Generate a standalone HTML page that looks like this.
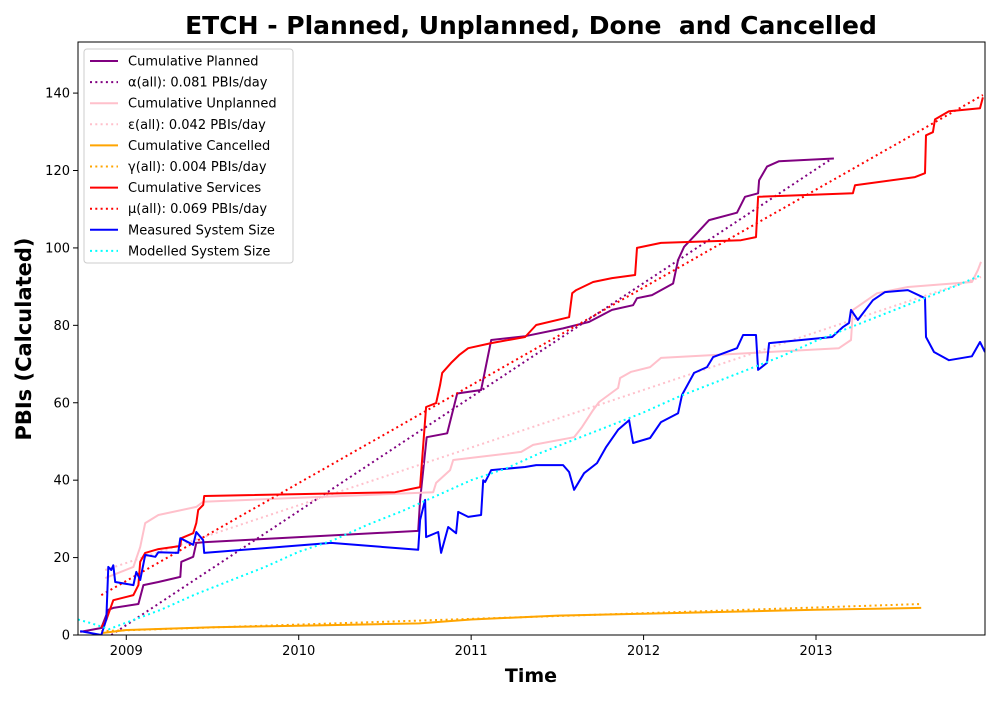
<!DOCTYPE html>
<html><head><meta charset="utf-8"><style>
body{margin:0;background:#fff;font-family:"Liberation Sans","DejaVu Sans",sans-serif;}
svg text{font-family:"DejaVu Sans","Liberation Sans",sans-serif;}
</style></head><body>
<svg id="chart" width="1000" height="700" xmlns="http://www.w3.org/2000/svg"></svg>
<script>
const xTicks=[2009,2010,2011,2012,2013];
const xTickLabels=["2009","2010","2011","2012","2013"];
const yTicks=[0,20,40,60,80,100,120,140];
const planned=[[2008.733,0.8],[2008.855,1.8],[2008.896,6.5],[2008.925,7],[2009.07,8],[2009.099,12.9],[2009.186,13.7],[2009.313,15],[2009.319,18.9],[2009.388,20.2],[2009.406,23.8],[2009.458,24],[2010.693,26.9],[2010.704,34.9],[2010.742,51.1],[2010.861,52.1],[2010.919,62.4],[2011.058,63.3],[2011.116,76.2],[2011.313,77.2],[2011.533,79.2],[2011.684,80.9],[2011.817,84],[2011.939,85.2],[2011.962,87],[2012.049,87.8],[2012.171,90.8],[2012.2,96.9],[2012.235,100.3],[2012.299,103.3],[2012.38,107.2],[2012.542,109.1],[2012.588,113.2],[2012.664,114.1],[2012.67,117.5],[2012.716,121],[2012.786,122.4],[2013.104,123.1]];
const services=[[2008.855,2],[2008.884,3.9],[2008.925,9],[2009.041,10.3],[2009.07,12.9],[2009.081,18.9],[2009.11,21.2],[2009.186,22.2],[2009.313,23],[2009.319,25],[2009.388,26.3],[2009.406,28.9],[2009.417,32.3],[2009.446,33.6],[2009.452,35.9],[2010.559,36.9],[2010.704,38.2],[2010.71,41.8],[2010.739,58.9],[2010.797,59.9],[2010.82,64.6],[2010.832,67.7],[2010.884,70.3],[2010.93,72.3],[2010.983,74.1],[2011.116,75.4],[2011.313,77],[2011.377,80.1],[2011.568,82.1],[2011.586,88.3],[2011.609,89.1],[2011.707,91.2],[2011.817,92.2],[2011.951,93],[2011.962,100],[2012.101,101.3],[2012.565,102],[2012.652,102.8],[2012.664,113.2],[2013.214,114.1],[2013.226,116.2],[2013.574,118.3],[2013.632,119.3],[2013.638,129.1],[2013.678,129.9],[2013.69,133.2],[2013.771,135.3],[2013.951,136.1],[2013.968,138.9]];
const unplanned=[[2008.878,14.7],[2009.041,17.6],[2009.081,22.7],[2009.11,28.9],[2009.186,31],[2009.406,33.1],[2009.446,34.4],[2010.78,36.9],[2010.797,39.3],[2010.878,42.6],[2010.896,45.2],[2011.29,47.3],[2011.359,49.1],[2011.597,51.1],[2011.643,53.7],[2011.707,58.1],[2011.742,60.2],[2011.852,63.8],[2011.864,66.4],[2011.928,68],[2012.038,69.2],[2012.101,71.6],[2013.133,74.1],[2013.203,76.2],[2013.214,84],[2013.354,88.3],[2013.533,89.9],[2013.904,91.2],[2013.939,94.3],[2013.957,96.4]];
const cancelled=[[2008.855,0.5],[2009,1.3],[2009.5,2],[2010,2.4],[2010.7,3],[2011,4],[2011.5,5],[2012,5.5],[2012.5,6],[2013,6.5],[2013.61,7]];
const measured=[[2008.733,1],[2008.855,0],[2008.884,4],[2008.896,17.6],[2008.913,16.8],[2008.925,18],[2008.936,13.7],[2009.041,12.9],[2009.058,16.3],[2009.081,14.2],[2009.11,20.7],[2009.168,20.2],[2009.186,21.4],[2009.301,21.2],[2009.313,25],[2009.388,23.3],[2009.406,26.6],[2009.446,24.5],[2009.452,21.2],[2010.188,23.8],[2010.693,22],[2010.704,29.7],[2010.733,34.9],[2010.739,25.3],[2010.809,26.6],[2010.826,21.2],[2010.867,27.9],[2010.913,26.3],[2010.925,31.8],[2010.983,30.5],[2011.058,31],[2011.07,40],[2011.081,39.5],[2011.116,42.6],[2011.313,43.4],[2011.377,43.9],[2011.533,43.9],[2011.568,42.1],[2011.597,37.5],[2011.655,41.8],[2011.73,44.4],[2011.783,48.6],[2011.852,53],[2011.916,55.5],[2011.939,49.6],[2012.038,50.9],[2012.101,55],[2012.2,57.3],[2012.223,62],[2012.293,67.7],[2012.368,69.2],[2012.403,71.8],[2012.542,74.1],[2012.577,77.5],[2012.652,77.5],[2012.664,68.5],[2012.716,70.3],[2012.728,75.4],[2013.093,77],[2013.157,79.6],[2013.191,80.6],[2013.203,84],[2013.243,81.4],[2013.33,86.5],[2013.4,88.6],[2013.533,89.1],[2013.632,87],[2013.638,77],[2013.684,73.1],[2013.771,71],[2013.904,72],[2013.951,75.7],[2013.98,73.1]];
const modelled=[[2008.72,4],[2008.8,3],[2008.9,1.5],[2009.0,3.2],[2009.2,6.5],[2009.4,10.5],[2009.6,14],[2009.8,17.5],[2010.0,21.5],[2010.2,24.5],[2010.4,28.5],[2010.6,32],[2010.8,36],[2011.0,40],[2011.2,43],[2011.4,47],[2011.6,50.5],[2011.8,54],[2012.0,57.5],[2012.2,61.5],[2012.4,65],[2012.6,68.5],[2012.8,72],[2013.0,76],[2013.2,79.5],[2013.4,83],[2013.6,86.5],[2013.8,90],[2013.96,93]];
const alphaFit=[[2008.913,0],[2013.09,123]];
const epsFit=[[2008.878,16.8],[2013.957,92.5]];
const gammaFit=[[2008.855,1],[2013.61,8]];
const muFit=[[2008.855,10.3],[2013.968,139.5]];
const legendLabels=["Cumulative Planned","α(all): 0.081 PBIs/day","Cumulative Unplanned","ε(all): 0.042 PBIs/day","Cumulative Cancelled","γ(all): 0.004 PBIs/day","Cumulative Services","μ(all): 0.069 PBIs/day","Measured System Size","Modelled System Size"];

const NS="http://www.w3.org/2000/svg";
const svg=document.getElementById('chart');
const L=78,R=985,T=42,B=635;
const X0=2008.72,X1=2013.98,Y0=0,Y1=153.2;
function sx(v){return L+(v-X0)/(X1-X0)*(R-L);}
function sy(v){return B-(v-Y0)/(Y1-Y0)*(B-T);}
function mk(tag,attrs,parent){const e=document.createElementNS(NS,tag);for(const k in attrs)e.setAttribute(k,attrs[k]);(parent||svg).appendChild(e);return e;}

const clip=mk('clipPath',{id:'pc'});mk('rect',{x:L,y:T,width:R-L,height:B-T},clip);
const plotG=mk('g',{'clip-path':'url(#pc)'});



const DOT='2,3.3';
function line(data,color,dotted,name){
  const d=data.map((p,i)=>(i?'L':'M')+sx(p[0]).toFixed(1)+','+sy(p[1]).toFixed(1)).join('');
  const p=mk('path',{d:d,fill:'none',stroke:color,'stroke-width':2,'stroke-linejoin':'round'},plotG);
  if(dotted){p.setAttribute('stroke-dasharray',DOT);}
  
  
}
line(planned,'#800080',false,'cumulative-planned-line');
line(alphaFit,'#800080',true,'alpha-fit-line');
line(unplanned,'#ffc0cb',false,'cumulative-unplanned-line');
line(epsFit,'#ffc0cb',true,'epsilon-fit-line');
line(cancelled,'#ffa500',false,'cumulative-cancelled-line');
line(gammaFit,'#ffa500',true,'gamma-fit-line');
line(services,'#ff0000',false,'cumulative-services-line');
line(muFit,'#ff0000',true,'mu-fit-line');
line(measured,'#0000ff',false,'measured-system-size-line');
line(modelled,'#00ffff',true,'modelled-system-size-line');

const frame=mk('rect',{x:L,y:T,width:R-L,height:B-T,fill:'none',stroke:'#000','stroke-width':1});



xTicks.forEach((t,i)=>{
  const x=sx(t);
  mk('line',{x1:x,y1:B,x2:x,y2:B+5,stroke:'#000'});
  const tx=mk('text',{x:x,y:B+20,'text-anchor':'middle','font-size':13});
  tx.textContent=xTickLabels[i];
  
  
});
yTicks.forEach(t=>{
  const y=sy(t);
  mk('line',{x1:L-5,y1:y,x2:L,y2:y,stroke:'#000'});
  const tx=mk('text',{x:L-8,y:y+4.5,'text-anchor':'end','font-size':13});
  tx.textContent=String(t);
  
  
});
const title=mk('text',{x:531,y:34,'text-anchor':'middle','font-size':25,'font-weight':'bold'});
title.textContent='ETCH - Planned, Unplanned, Done\u00a0 and Cancelled';


const xl=mk('text',{x:531,y:682,'text-anchor':'middle','font-size':19,'font-weight':'bold'});
xl.textContent='Time';


const yl=mk('text',{x:0,y:0,'text-anchor':'middle','font-size':21,'font-weight':'bold',transform:'translate(31,339) rotate(-90)'});
yl.textContent='PBIs (Calculated)';



const lg=mk('g',{});


mk('rect',{x:84,y:49,width:209,height:214,rx:3,fill:'#fff','fill-opacity':0.8,stroke:'#ccc'},lg);
const lcol=['#800080','#800080','#ffc0cb','#ffc0cb','#ffa500','#ffa500','#ff0000','#ff0000','#0000ff','#00ffff'];
legendLabels.forEach((lab,i)=>{
  const y=61+i*21.1;
  const dotted=(i%2===1&&i<8)||i===9;
  const ln=mk('line',{x1:90,y1:y,x2:118,y2:y,stroke:lcol[i],'stroke-width':2},lg);
  if(dotted){ln.setAttribute('stroke-dasharray',DOT);}
  const t=mk('text',{x:128,y:y+4.5,'font-size':13},lg);
  t.textContent=lab;
  
  
});
</script>
</body></html>
